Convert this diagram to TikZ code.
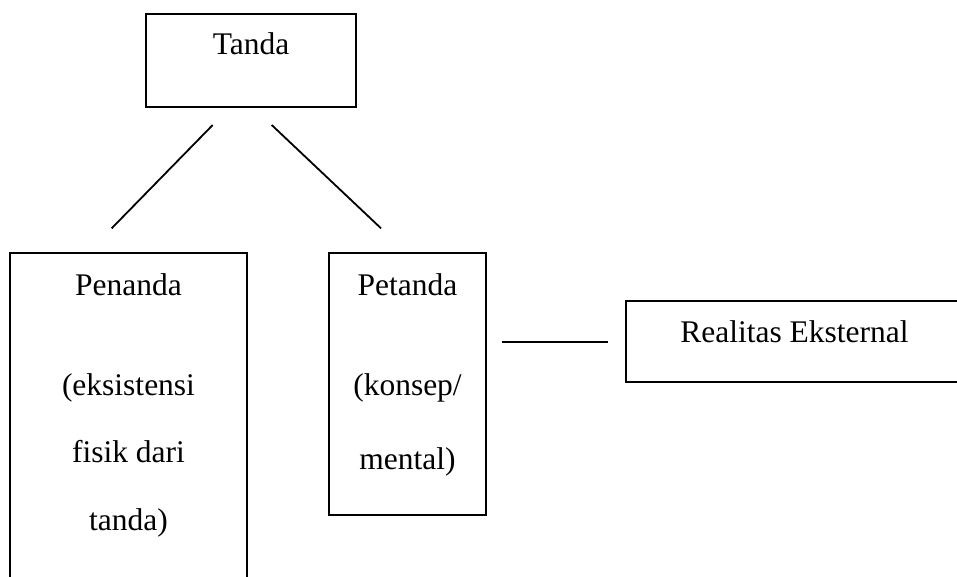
\documentclass[tikz,border=0pt]{standalone}
\usepackage{fontspec}
\setmainfont{Liberation Serif}
\begin{document}
\begin{tikzpicture}[x=1pt,y=-1pt,
  boxline/.style={draw=black,line width=1.8pt},
  lbl/.style={anchor=base,inner sep=0pt,font=\fontsize{31.5}{36}\selectfont},
  conn/.style={draw=black,line width=1.8pt}]
\useasboundingbox (0,0) rectangle (957,576);
\clip (0,0) rectangle (957,576);
\fill[white] (0,0) rectangle (957,576);
% boxes
\path[boxline] (146,14) rectangle (356,107);
\path[boxline] (10,253) rectangle (247,620);
\path[boxline] (329,253) rectangle (486,515);
\path[boxline] (626,301) rectangle (975,382);
\node[lbl] (tanda) at (251,54) {Tanda};
\node[lbl] (penanda) at (128.5,295) {Penanda};
\node[lbl] (pen2) at (128.5,395) {(eksistensi};
\node[lbl] (pen3) at (128.5,462) {fisik dari};
\node[lbl] (pen4) at (128.5,530) {tanda)};
\node[lbl] (petanda) at (407.5,295) {Petanda};
\node[lbl] (pet2) at (407.5,395) {(konsep/};
\node[lbl] (pet3) at (407.5,469) {mental)};
\node[lbl] (realitas) at (794.5,342) {Realitas Eksternal};
% connectors
\coordinate (a1) at (212.7,125);
\coordinate (a2) at (111.7,228.3);
\coordinate (b1) at (271.7,125);
\coordinate (b2) at (381,228.3);
\coordinate (c1) at (501.7,342);
\coordinate (c2) at (608,342);
\draw[conn] (a1) -- (a2);
\draw[conn] (b1) -- (b2);
\draw[conn] (c1) -- (c2);
\end{tikzpicture}
\end{document}
